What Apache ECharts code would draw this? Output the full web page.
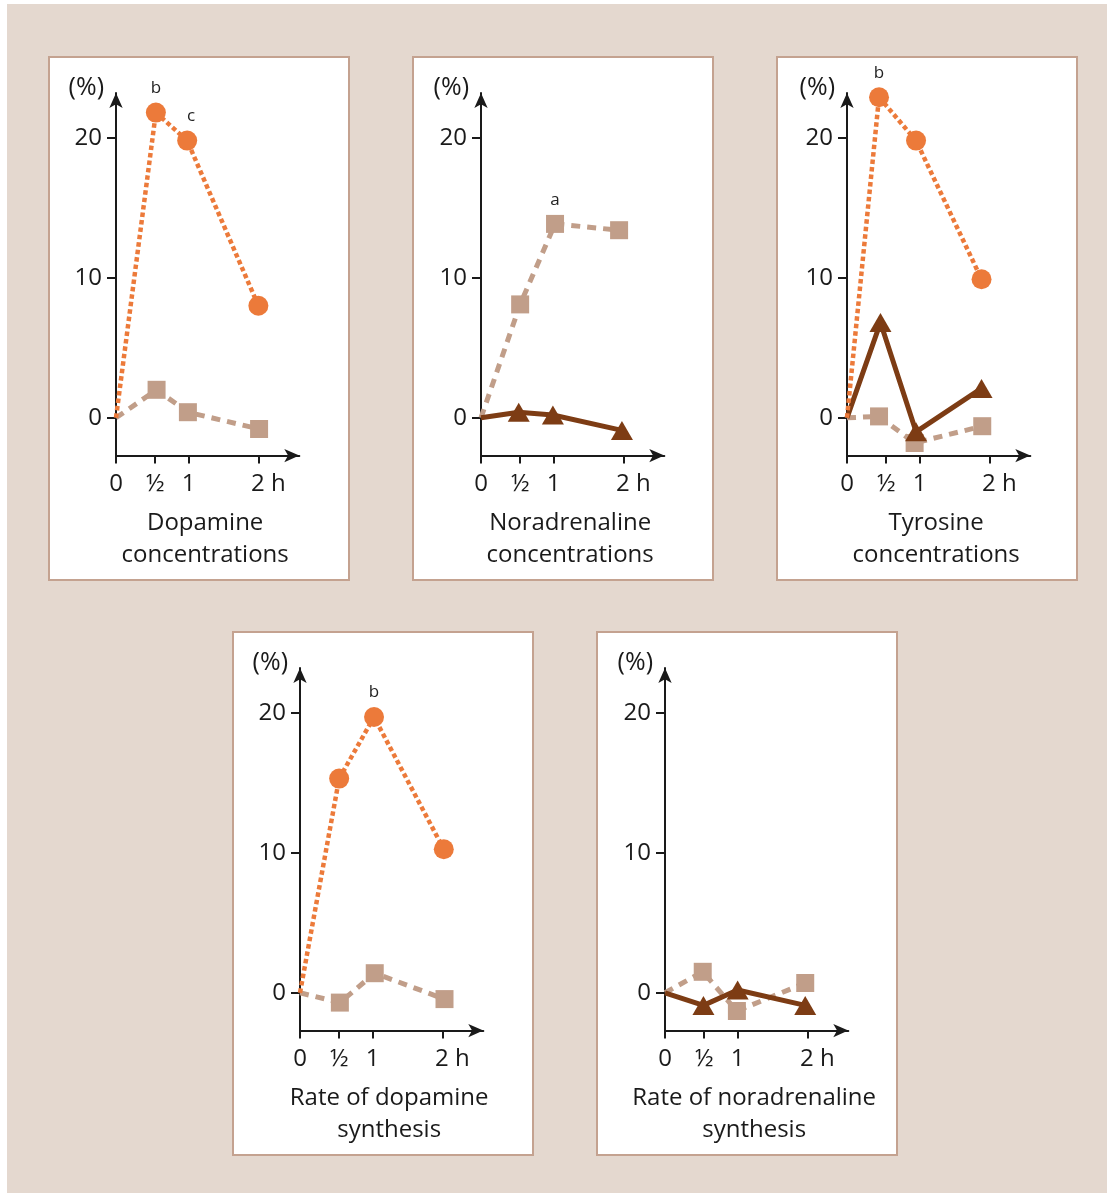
<!DOCTYPE html>
<html>
<head>
<meta charset="utf-8">
<script src="https://cdn.jsdelivr.net/npm/echarts@6/dist/echarts.min.js"></script>
<style>
  html, body { margin: 0; padding: 0; background: #ffffff; }
  #stage { position: relative; width: 1107px; height: 1195px; overflow: hidden; }
  #sheet { position: absolute; left: 7px; top: 4px; width: 1100px; height: 1189px; background: #e4d8cf; }
  .panel { position: absolute; width: 298px; height: 521px; background: #ffffff; border: 2px solid #c4a290; }
  #chart { position: absolute; left: 0; top: 0; width: 1107px; height: 1195px; }
</style>
</head>
<body>
<div id="stage">
  <div id="sheet"></div>
  <div class="panel" style="left:48px;top:56px"></div>
  <div class="panel" style="left:412px;top:56px"></div>
  <div class="panel" style="left:776px;top:56px"></div>
  <div class="panel" style="left:232px;top:631px"></div>
  <div class="panel" style="left:596px;top:631px"></div>
  <div id="chart"></div>
</div>
<script>
// Time axis (hours) and percent-change axis ticks
const timeTickPos = [0, 0.55, 1.02, 2];
const timeTickText = ['0', '½', '1', '2 h'];
const pctTicks = [0, 10, 20];

// Dopamine concentrations
const dopConcOrangeT = [0, 0.56, 1.0, 2.0];
const dopConcOrange = [0, 21.8, 19.8, 8.0];
const dopConcOrangeMarks = [null, 'b', 'c', null];
const dopConcTanT = [0, 0.57, 1.01, 2.01];
const dopConcTan = [0, 2.0, 0.4, -0.8];

// Noradrenaline concentrations
const naConcTanT = [0, 0.55, 1.04, 1.94];
const naConcTan = [0, 8.1, 13.85, 13.4];
const naConcTanMarks = [null, null, 'a', null];
const naConcBrownT = [0, 0.53, 1.01, 1.98];
const naConcBrown = [0, 0.4, 0.2, -0.9];

// Tyrosine concentrations
const tyrOrangeT = [0, 0.45, 0.97, 1.89];
const tyrOrange = [0, 22.9, 19.8, 9.9];
const tyrOrangeMarks = [null, 'b', null, null];
const tyrBrownT = [0, 0.47, 0.97, 1.89];
const tyrBrown = [0, 6.8, -1.0, 2.1];
const tyrTanT = [0, 0.45, 0.95, 1.9];
const tyrTan = [0, 0.1, -1.8, -0.6];

// Rate of dopamine synthesis
const dopRateOrangeT = [0, 0.55, 1.04, 2.02];
const dopRateOrange = [0, 15.3, 19.7, 10.25];
const dopRateOrangeMarks = [null, null, 'b', null];
const dopRateTanT = [0, 0.56, 1.05, 2.03];
const dopRateTan = [0, -0.7, 1.4, -0.45];

// Rate of noradrenaline synthesis
const naRateTanT = [0, 0.53, 1.01, 1.97];
const naRateTan = [0, 1.5, -1.3, 0.7];
const naRateBrownT = [0, 0.54, 1.02, 1.97];
const naRateBrown = [0, -0.9, 0.2, -0.9];

const titles = [
  'Dopamine\nconcentrations',
  'Noradrenaline\nconcentrations',
  'Tyrosine\nconcentrations',
  'Rate of dopamine\nsynthesis',
  'Rate of noradrenaline\nsynthesis'
];

const FONT = '"Open Sans", "Liberation Sans", sans-serif';
const INK = '#1a1a1a';

const styles = {
  orange: { color: '#ec7a3a', width: 4.5, dash: [4.5, 3], symbol: 'circle', size: 20 },
  tan:    { color: '#c19e89', width: 5, dash: [9, 7], symbol: 'rect', size: 18 },
  brown:  { color: '#7d3c14', width: 5, dash: 'solid', symbol: 'triangle', size: [22, 19] }
};

// panel layout: y-axis x position and top of plotting area
const grids = [
  { left: 116, top: 93 },
  { left: 481, top: 93 },
  { left: 847, top: 93 },
  { left: 300, top: 668 },
  { left: 665, top: 668 }
];

const panelSeries = [
  [['tan', dopConcTanT, dopConcTan, null], ['orange', dopConcOrangeT, dopConcOrange, dopConcOrangeMarks]],
  [['tan', naConcTanT, naConcTan, naConcTanMarks], ['brown', naConcBrownT, naConcBrown, null]],
  [['tan', tyrTanT, tyrTan, null], ['brown', tyrBrownT, tyrBrown, null], ['orange', tyrOrangeT, tyrOrange, tyrOrangeMarks]],
  [['tan', dopRateTanT, dopRateTan, null], ['orange', dopRateOrangeT, dopRateOrange, dopRateOrangeMarks]],
  [['tan', naRateTanT, naRateTan, null], ['brown', naRateBrownT, naRateBrown, null]]
];

const option = {
  animation: false,
  backgroundColor: 'transparent',
  grid: grids.map(g => ({
    left: g.left, top: g.top, width: 183.3, height: 362.6,
    outerBoundsMode: 'none', containLabel: false
  })),
  xAxis: grids.map((g, i) => ({
    gridIndex: i,
    type: 'value',
    min: 0, max: 2.575,
    name: titles[i],
    nameLocation: 'middle',
    nameGap: 52,
    nameMoveOverlap: false,
    nameTextStyle: { fontFamily: FONT, fontSize: 24, lineHeight: 32, color: INK, padding: [0, 5, 0, 0] },
    axisLine: {
      show: true, onZero: false,
      symbol: ['none', 'arrow'], symbolSize: [10, 15],
      lineStyle: { color: INK, width: 2 }
    },
    axisTick: {
      show: true, inside: false, length: 8, customValues: timeTickPos,
      lineStyle: { color: INK, width: 2 }
    },
    axisLabel: {
      show: true, margin: 17, customValues: timeTickPos,
      fontFamily: FONT, fontSize: 24, color: INK,
      formatter: v => {
        const t = timeTickText[timeTickPos.indexOf(v)];
        return t === '2 h' ? '{h|2 h}' : t;
      },
      rich: { h: { fontFamily: FONT, fontSize: 24, color: INK, padding: [0, 0, 0, 20] } }
    },
    splitLine: { show: false }
  })),
  yAxis: grids.map((g, i) => ({
    gridIndex: i,
    type: 'value',
    min: -2.7, max: 23.2,
    name: '(%)',
    nameLocation: 'end',
    nameGap: -7,
    nameMoveOverlap: false,
    nameTextStyle: { fontFamily: FONT, fontSize: 25, color: INK, align: 'right', padding: [0, 12, 0, 0] },
    axisLine: {
      show: true, onZero: false,
      symbol: ['none', 'arrow'], symbolSize: [10, 15],
      lineStyle: { color: INK, width: 2 }
    },
    axisTick: {
      show: true, inside: false, length: 9, customValues: pctTicks,
      lineStyle: { color: INK, width: 2 }
    },
    axisLabel: {
      show: true, margin: 14, customValues: pctTicks,
      fontFamily: FONT, fontSize: 24, color: INK
    },
    splitLine: { show: false }
  })),
  series: []
};

panelSeries.forEach((list, gi) => {
  list.forEach(([kind, xs, ys, marks]) => {
    const s = styles[kind];
    option.series.push({
      type: 'line',
      xAxisIndex: gi,
      yAxisIndex: gi,
      clip: false,
      symbol: s.symbol,
      symbolSize: s.size,
      showAllSymbol: true,
      lineStyle: { color: s.color, width: s.width, type: s.dash, cap: 'butt' },
      itemStyle: { color: s.color },
      z: kind === 'orange' ? 4 : (kind === 'brown' ? 3 : 2),
      data: xs.map((x, k) => {
        const item = { value: [x, ys[k]] };
        if (k === 0) item.symbol = 'none';
        const m = marks && marks[k];
        if (m) {
          item.label = {
            show: true, formatter: m, position: 'top', distance: 6,
            offset: m === 'c' ? [4, 0] : [0, 0],
            fontFamily: FONT, fontSize: 17, color: '#222222'
          };
        }
        return item;
      })
    });
  });
});

const chart = echarts.init(document.getElementById('chart'), null, { renderer: 'canvas' });
chart.setOption(option);
</script>
</body>
</html>
